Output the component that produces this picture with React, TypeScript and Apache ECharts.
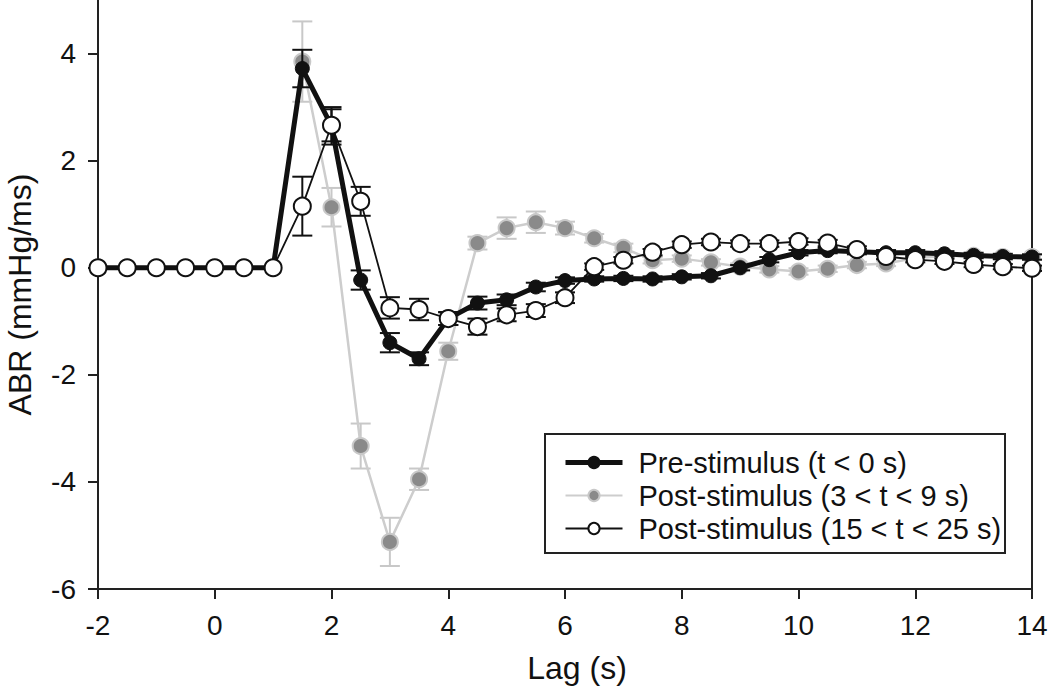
import React, { useEffect, useRef } from "react";
import * as echarts from "echarts";

const lags = [-2, -1.5, -1, -0.5, 0, 0.5, 1, 1.5, 2, 2.5, 3, 3.5, 4, 4.5, 5, 5.5, 6, 6.5, 7, 7.5, 8, 8.5, 9, 9.5, 10, 10.5, 11, 11.5, 12, 12.5, 13, 13.5, 14];

const preValues = [0, 0, 0, 0, 0, 0, 0, 3.72, 2.65, -0.23, -1.4, -1.7, -0.95, -0.66, -0.6, -0.36, -0.24, -0.21, -0.2, -0.21, -0.17, -0.15, 0.0, 0.15, 0.28, 0.32, 0.3, 0.28, 0.28, 0.26, 0.23, 0.21, 0.2];
const preErr = [0, 0, 0, 0, 0, 0, 0, 0.35, 0.35, 0.18, 0.18, 0.12, 0.12, 0.12, 0.1, 0.08, 0.06, 0.05, 0.05, 0.05, 0.05, 0.05, 0.05, 0.05, 0.05, 0.05, 0.05, 0.05, 0.05, 0.05, 0.05, 0.05, 0.05];

const post1Values = [0, 0, 0, 0, 0, 0, 0, 3.85, 1.13, -3.33, -5.12, -3.95, -1.56, 0.46, 0.74, 0.85, 0.74, 0.55, 0.37, 0.14, 0.17, 0.1, 0.02, -0.03, -0.07, -0.02, 0.05, 0.08, 0.18, 0.22, 0.22, 0.2, 0.2];
const post1Err = [0, 0, 0, 0, 0, 0, 0, 0.75, 0.36, 0.42, 0.45, 0.2, 0.16, 0.12, 0.2, 0.2, 0.12, 0.08, 0.08, 0.06, 0.06, 0.06, 0.06, 0.06, 0.06, 0.06, 0.06, 0.05, 0.05, 0.05, 0.05, 0.05, 0.05];

const post2Values = [0, 0, 0, 0, 0, 0, 0, 1.15, 2.66, 1.24, -0.75, -0.78, -0.95, -1.1, -0.88, -0.8, -0.56, 0.02, 0.14, 0.29, 0.43, 0.48, 0.45, 0.45, 0.49, 0.46, 0.34, 0.21, 0.15, 0.12, 0.06, 0.02, -0.01];
const post2Err = [0, 0, 0, 0, 0, 0, 0, 0.55, 0.3, 0.27, 0.2, 0.2, 0.12, 0.15, 0.12, 0.12, 0.1, 0.06, 0.06, 0.06, 0.06, 0.06, 0.06, 0.06, 0.06, 0.06, 0.06, 0.05, 0.05, 0.05, 0.05, 0.05, 0.05];

const seriesNames = ["Pre-stimulus (t < 0 s)", "Post-stimulus (3 < t < 9 s)", "Post-stimulus (15 < t < 25 s)"];
const yTicks = [-6, -4, -2, 0, 2, 4];

const FONT = "'Liberation Sans', Arial, Helvetica, sans-serif";

function pairs(vals: number[]) {
  return lags.map((x, i) => [x, vals[i]]);
}
function errData(vals: number[], errs: number[]) {
  return lags.map((x, i) => [x, vals[i] - errs[i], vals[i] + errs[i]]).filter((d, i) => errs[i] > 0);
}

function errorSeries(vals: number[], errs: number[], color: string, z: number) {
  return {
    type: "custom",
    z,
    silent: true,
    data: errData(vals, errs),
    encode: { x: 0, y: [1, 2] },
    renderItem: (params: any, api: any) => {
      const x = api.value(0);
      const lo = api.coord([x, api.value(1)]);
      const hi = api.coord([x, api.value(2)]);
      const hw = 10;
      const style = { stroke: color, lineWidth: 2 };
      return {
        type: "group",
        children: [
          { type: "line", shape: { x1: lo[0], y1: lo[1], x2: hi[0], y2: hi[1] }, style },
          { type: "line", shape: { x1: lo[0] - hw, y1: lo[1], x2: lo[0] + hw, y2: lo[1] }, style },
          { type: "line", shape: { x1: hi[0] - hw, y1: hi[1], x2: hi[0] + hw, y2: hi[1] }, style },
        ],
      };
    },
  };
}

export default function App() {
  const ref = useRef<HTMLDivElement>(null);
  useEffect(() => {
    if (!ref.current) return;
    const chart = echarts.init(ref.current, undefined, { renderer: "svg" });
    const axisColor = "#222";
    chart.setOption({
      animation: false,
      backgroundColor: "#fff",
      textStyle: { fontFamily: FONT },
      grid: { left: 98, right: 18, top: 0, bottom: 98, containLabel: false, outerBoundsMode: "none" },
      legend: {
        data: [
          { name: seriesNames[0], lineStyle: { width: 5, color: "#111" }, itemStyle: { color: "#111" } },
          { name: seriesNames[1], lineStyle: { width: 2, color: "#cdcdcd" } },
          { name: seriesNames[2], lineStyle: { width: 2, color: "#111" } },
        ],
        orient: "vertical",
        left: 563,
        top: 448,
        itemWidth: 57,
        itemHeight: 14,
        itemGap: 4,
        padding: 0,
        textStyle: { fontSize: 29, color: "#111", fontFamily: FONT, padding: [0, 0, 0, 11] },
      },
      graphic: [
        {
          type: "rect",
          shape: { x: 545, y: 434, width: 460, height: 119 },
          style: { fill: "none", stroke: "#222", lineWidth: 2 },
          z: 100,
        },
      ],
      xAxis: {
        type: "value",
        min: -2,
        max: 14,
        interval: 2,
        name: "Lag (s)",
        nameLocation: "middle",
        nameGap: 63,
        nameTextStyle: { fontSize: 32, color: "#111", fontFamily: FONT, padding: [0, 0, 0, 24] },
        axisLine: { show: true, onZero: false, lineStyle: { color: axisColor, width: 2 } },
        axisTick: { show: true, inside: false, length: 10, lineStyle: { color: axisColor, width: 2 } },
        axisLabel: { fontSize: 28, color: "#111", margin: 22, fontFamily: FONT },
        splitLine: { show: false },
      },
      yAxis: [
        {
          type: "value",
          min: -6,
          max: 5,
          interval: 2,
          name: "ABR (mmHg/ms)",
          nameLocation: "middle",
          nameGap: 62,
          nameTextStyle: { fontSize: 32, color: "#111", fontFamily: FONT },
          axisLine: { show: true, onZero: false, lineStyle: { color: axisColor, width: 2 } },
          axisTick: { show: true, inside: false, length: 10, lineStyle: { color: axisColor, width: 2 }, customValues: yTicks },
          axisLabel: { fontSize: 28, color: "#111", margin: 22, fontFamily: FONT, customValues: yTicks },
          splitLine: { show: false },
        },
        {
          type: "value",
          min: -6,
          max: 5,
          position: "right",
          axisLine: { show: true, onZero: false, lineStyle: { color: axisColor, width: 2 } },
          axisTick: { show: false },
          axisLabel: { show: false },
          splitLine: { show: false },
        },
      ],
      series: [
        errorSeries(post1Values, post1Err, "#c8c8c8", 1),
        {
          name: seriesNames[1],
          type: "line",
          z: 2,
          data: pairs(post1Values),
          symbol: "circle",
          symbolSize: 16,
          lineStyle: { color: "#cdcdcd", width: 2.5 },
          itemStyle: { color: "#8a8a8a", borderColor: "#c8c8c8", borderWidth: 2 },
          emphasis: { disabled: true },
        },
        errorSeries(preValues, preErr, "#111", 3),
        {
          name: seriesNames[0],
          type: "line",
          z: 4,
          data: pairs(preValues),
          symbol: "circle",
          symbolSize: 14,
          lineStyle: { color: "#111", width: 5 },
          itemStyle: { color: "#111", borderColor: "#111", borderWidth: 1 },
          emphasis: { disabled: true },
        },
        errorSeries(post2Values, post2Err, "#111", 5),
        {
          name: seriesNames[2],
          type: "line",
          z: 6,
          data: pairs(post2Values),
          symbol: "circle",
          symbolSize: 17,
          lineStyle: { color: "#111", width: 1.8 },
          itemStyle: { color: "#fff", borderColor: "#111", borderWidth: 2 },
          emphasis: { disabled: true },
        },
      ],
    });
    return () => chart.dispose();
  }, []);
  return <div ref={ref} style={{ position: "fixed", left: 0, top: 0, width: 1050, height: 687 }} />;
}
